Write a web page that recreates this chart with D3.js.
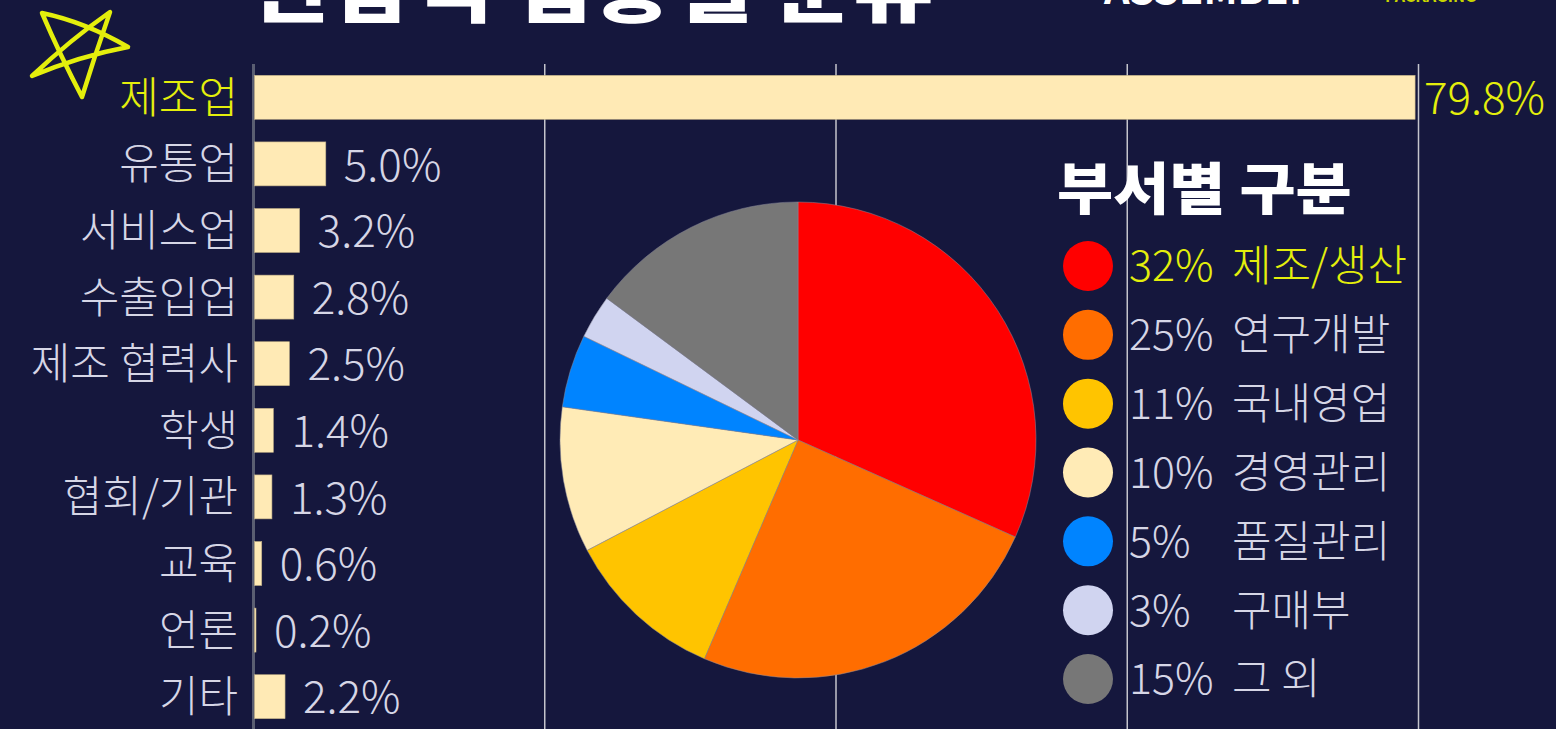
<!DOCTYPE html>
<html>
<head>
<meta charset="utf-8">
<script src="https://cdn.jsdelivr.net/npm/d3@7"></script>
<style>
  html, body { margin: 0; padding: 0; background: #15173d; }
  svg { display: block; }
  text { font-family: "Noto Sans CJK KR", "Noto Sans", sans-serif; }
</style>
</head>
<body>
<div id="chart"></div>
<script>
// industry split (bar chart)
const industries = ['제조업', '유통업', '서비스업', '수출입업', '제조 협력사', '학생', '협회/기관', '교육', '언론', '기타'];
const industryShare = [79.8, 5.0, 3.2, 2.8, 2.5, 1.4, 1.3, 0.6, 0.2, 2.2];
const xTicks = [0, 20, 40, 60, 80];

// department split (pie)
const departments = ['제조/생산', '연구개발', '국내영업', '경영관리', '품질관리', '구매부', '그 외'];
const deptShare = [32, 25, 11, 10, 5, 3, 15];
const deptColors = ['#ff0000', '#ff6d00', '#ffc400', '#ffebb6', '#0084ff', '#d0d4f0', '#777777'];

const W = 1556, H = 729;
const BG = '#15173d', TXT = '#d6d6e6', HILITE = '#e4ef0c', BAR = '#ffeab5';

const svg = d3.select('#chart').append('svg')
     .attr('width', W).attr('height', H)
     .attr('viewBox', `0 0 ${W} ${H}`);

svg.append('rect').attr('width', W).attr('height', H).attr('fill', BG);

// title, partly cut by the top edge
svg.append('text')
     .attr('transform', 'translate(251,16) scale(1.18,1)')
     .attr('font-size', 74).attr('font-weight', 900)
     .attr('fill', '#ffffff')
     .text('관람객 업종별 분류');
svg.append('text')
     .attr('x', 1104).attr('y', 4)
     .attr('font-size', 40).attr('font-weight', 700)
     .attr('fill', '#ffffff')
     .text('ASSEMBLY');
svg.append('text')
     .attr('x', 1385).attr('y', 2)
     .attr('font-size', 16).attr('font-weight', 700)
     .attr('fill', '#c8d400')
     .text('PACKAGING');

// hand drawn star
svg.append('path')
     .attr('d', 'M42,13 Q85,22 128,47 Q80,56 32,76 Q70,40 110,12 Q95,55 82,97 Q60,55 42,13')
     .attr('fill', 'none')
     .attr('stroke', HILITE)
     .attr('stroke-width', 4.5)
     .attr('stroke-linejoin', 'round')
     .attr('stroke-linecap', 'round');

// ---- bar chart ----
const x = d3.scaleLinear().domain([0, 80]).range([253, 1418]);
const y = d3.scaleBand().domain(industries).range([64, 730])
     .paddingInner(0.34).paddingOuter(0.17);

const grid = svg.append('g')
     .attr('transform', `translate(0,${H})`)
     .call(d3.axisBottom(x).tickValues(xTicks).tickSize(-(H - 64)).tickFormat(''));
grid.select('.domain').remove();
grid.selectAll('.tick line')
     .attr('stroke', d => d === 0 ? '#5a5e72' : '#c4c4cc')
     .attr('stroke-width', d => d === 0 ? 3 : 1.5);

const bars = svg.append('g');
bars.selectAll('rect')
     .data(industryShare)
     .join('rect')
     .attr('x', x(0) + 1.5)
     .attr('y', (d, i) => y(industries[i]))
     .attr('width', d => Math.max(1.5, x(d) - x(0) - 1.5))
     .attr('height', y.bandwidth())
     .attr('fill', BAR)
     .attr('stroke', '#bfae86').attr('stroke-width', 0.6);

svg.append('g').selectAll('text')
     .data(industries)
     .join('text')
     .attr('x', 238)
     .attr('y', d => y(d) + y.bandwidth() / 2)
     .attr('dy', '0.36em')
     .attr('text-anchor', 'end')
     .attr('font-size', 43).attr('font-weight', 300)
     .attr('fill', (d, i) => i === 0 ? HILITE : TXT)
     .text(d => d);

svg.append('g').selectAll('text')
     .data(industryShare)
     .join('text')
     .attr('x', d => Math.min(x(d) + 18, 1424))
     .attr('y', (d, i) => y(industries[i]) + y.bandwidth() / 2)
     .attr('dy', '0.38em')
     .attr('font-size', 44).attr('font-weight', 300)
     .attr('fill', (d, i) => i === 0 ? HILITE : TXT)
     .text(d => d.toFixed(1) + '%');

// ---- pie ----
const pie = d3.pie().sort(null)(deptShare);
const arc = d3.arc().innerRadius(0).outerRadius(238);
svg.append('g')
     .attr('transform', 'translate(798,440)')
     .selectAll('path')
     .data(pie)
     .join('path')
     .attr('d', arc)
     .attr('fill', (d, i) => deptColors[i])
     .attr('stroke', '#8a8a9a').attr('stroke-width', 0.5);

// ---- legend ----
svg.append('text')
     .attr('transform', 'translate(1057,209) scale(1.09,1)')
     .attr('font-size', 56).attr('font-weight', 900)
     .attr('fill', '#ffffff')
     .text('부서별 구분');

const ly = d3.scalePoint().domain(departments).range([266, 679]);
const leg = svg.append('g').selectAll('g')
     .data(departments)
     .join('g')
     .attr('transform', d => `translate(0,${ly(d)})`);
leg.append('circle')
     .attr('cx', 1088).attr('r', 25)
     .attr('fill', (d, i) => deptColors[i]);
leg.append('text')
     .attr('x', 1129).attr('dy', '0.36em')
     .attr('font-size', 43).attr('font-weight', 300)
     .attr('fill', (d, i) => i === 0 ? HILITE : TXT)
     .text((d, i) => deptShare[i] + '%');
leg.append('text')
     .attr('x', 1232).attr('dy', '0.36em')
     .attr('font-size', 43).attr('font-weight', 300)
     .attr('fill', (d, i) => i === 0 ? HILITE : TXT)
     .text(d => d);
</script>
</body>
</html>
